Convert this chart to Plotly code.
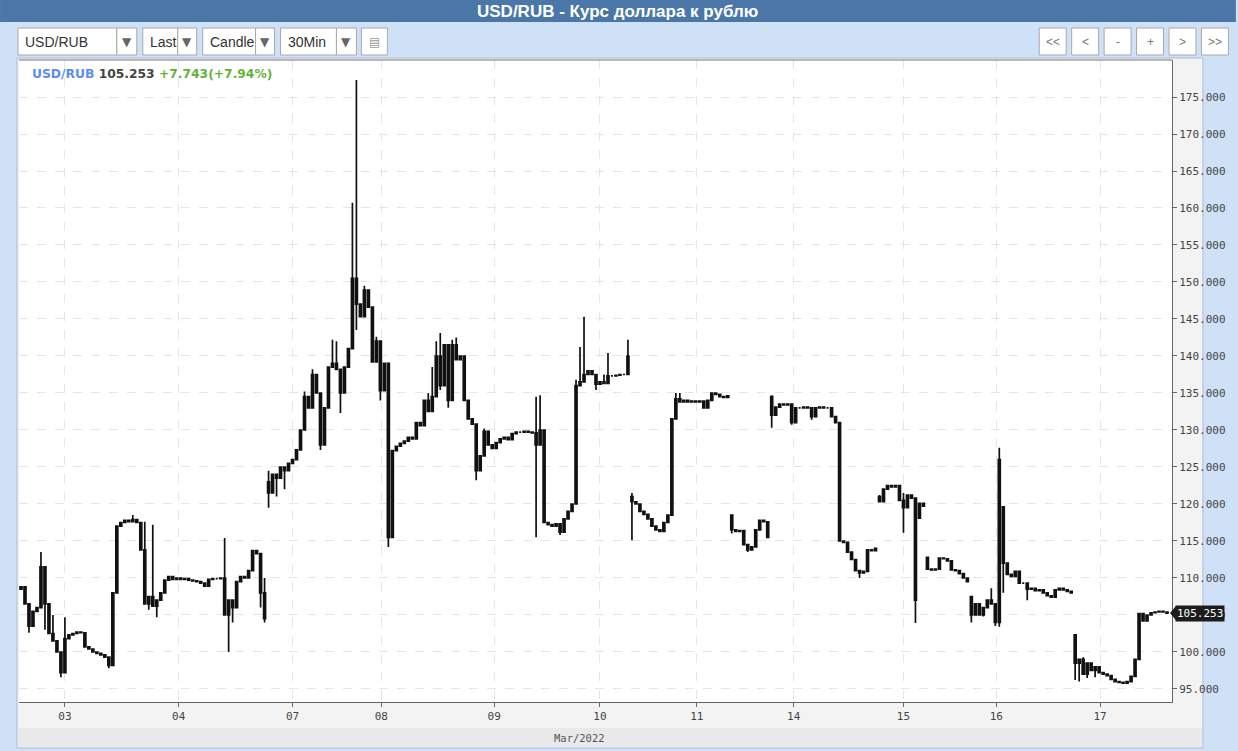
import plotly.graph_objects as go

# ---------------- data (30-min candles, USD/RUB, Mar 2022) ----------------
close = [
    108.8, 106.5, 103.5, 105.5, 106.0, 111.5, 106.5, 102.5, 101.5, 100.0,
    97.2, 101.8, 102.3, 102.5, 102.7, 102.6, 100.7, 100.4, 100.0, 99.8,
    99.6, 99.3, 98.2, 108.0, 117.0, 117.5, 117.8, 117.6, 117.9, 117.5,
    113.8, 106.5, 107.5, 106.2, 107.0, 108.0, 109.7, 110.2, 109.8, 110.0,
    109.8, 109.9, 109.7, 109.6, 109.5, 109.3, 108.9, 109.8, 109.9, 109.9,
    110.0, 105.0, 107.0, 106.0, 109.5, 110.2, 110.0, 111.0, 113.7, 113.3,
    108.0, 104.5,
    121.5, 124.0, 123.5, 125.0, 124.5, 125.5, 126.0, 127.3,
    130.0, 134.5, 133.0, 137.5, 135.0, 128.0, 133.0, 138.5, 139.0, 138.2,
    135.0, 138.5, 141.0, 150.5, 147.0, 145.3, 148.9, 146.6, 139.2, 142.0,
    135.3, 139.0, 115.5, 127.2, 127.8, 128.2, 128.5, 129.0, 128.8, 131.0,
    130.6, 134.0, 132.5, 134.5, 140.0, 136.0, 141.5, 134.0, 141.5, 139.5,
    140.0, 134.0, 131.5, 130.8, 124.5, 126.5, 129.8, 128.0, 127.5, 128.3,
    128.8, 129.0, 128.7, 129.5, 129.7, 129.7, 129.8, 129.7, 129.6, 128.0,
    130.0, 117.5, 117.2, 117.0, 117.3, 116.2, 118.0, 119.0, 120.0, 136.0,
    136.5, 137.5, 138.0, 137.5, 136.2, 136.5, 136.3, 137.3, 137.3, 137.4,
    137.5, 137.5, 140.0,
    120.3, 120.0, 119.0, 118.6, 118.0, 117.0, 116.5, 116.3, 117.5, 118.5,
    131.5, 134.2, 133.8, 134.0, 133.8, 133.9, 133.8, 133.9, 133.0, 134.0,
    135.0, 134.8, 134.5, 134.4, 134.6,
    116.5, 116.3, 116.4, 114.5, 113.8, 114.2, 116.5, 117.8, 117.6, 115.5,
    132.0, 133.1, 133.5, 133.4, 133.5, 131.0, 133.0, 133.0, 133.1, 133.0,
    131.8, 133.0, 133.1, 133.0, 133.0, 131.8, 131.0,
    115.0, 114.8, 113.5, 112.5, 111.0, 110.7, 110.9, 113.8, 113.7, 114.0,
    120.3, 122.0, 122.5, 122.3, 122.5, 120.5, 119.5, 121.2, 120.8, 107.0,
    120.1, 119.7,
    111.2, 111.1, 111.2, 112.7, 112.6, 112.3, 111.1, 111.0, 110.6, 110.0, 109.5,
    105.0, 106.5, 105.0, 106.0, 107.0, 106.5, 104.0,
    126.0, 112.0, 110.5, 110.2, 110.9, 109.3, 109.3, 108.5, 108.6, 108.3,
    108.4, 108.0, 107.6, 107.4, 108.4, 108.6, 108.4, 108.2, 108.0,
    98.5, 99.0, 97.0, 98.5, 97.5, 98.0, 97.2, 97.0, 96.8, 96.3,
    96.0, 95.9, 95.8, 96.0, 96.7, 99.0,
    105.2, 104.2, 105.0, 105.3, 105.4, 105.5, 105.4, 105.253,
]
# candles whose open differs from the previous close (session gaps)
gap_open = {0: 108.5, 62: 123.0, 153: 121.0, 178: 118.5, 188: 134.5, 215: 121.0,
            225: 118.1, 227: 112.8, 238: 107.5, 246: 119.6, 264: 102.3}
# wick extremes beyond the body
wick_high = {5: 113.5, 8: 105.0, 11: 104.7, 28: 118.5, 31: 117.6, 33: 117.2, 51: 115.4,
             61: 110.0, 62: 124.5, 71: 135.2, 73: 138.2, 78: 142.2, 79: 142.0, 83: 160.7,
             84: 177.3, 86: 149.5, 89: 142.6, 102: 135.0, 103: 138.5, 104: 142.0, 105: 143.1,
             108: 142.2, 109: 142.5, 116: 130.2, 129: 134.5, 130: 134.7, 139: 136.8,
             140: 141.2, 141: 145.3, 146: 137.5, 147: 140.4, 152: 142.2, 153: 121.5,
             164: 135.0, 165: 135.0, 188: 134.7, 215: 121.2, 221: 121.5, 243: 108.6,
             245: 127.6, 266: 99.3}
wick_low = {2: 102.6, 6: 103.0, 10: 96.6, 22: 97.8, 32: 105.7, 34: 104.7, 52: 100.0,
            53: 104.0, 60: 106.0, 61: 104.0, 62: 119.5, 64: 121.0, 66: 122.0, 75: 127.3,
            80: 132.3, 84: 143.5, 90: 134.0, 92: 114.2, 105: 135.4, 107: 133.0, 114: 123.2,
            129: 115.5, 135: 115.8, 144: 135.4, 153: 115.1, 178: 116.0, 182: 113.5,
            188: 130.3, 193: 130.7, 198: 131.4, 210: 110.0, 221: 116.1, 224: 103.9,
            238: 104.0, 241: 104.8, 244: 103.5, 245: 103.4, 246: 108.0, 252: 107.0,
            264: 96.2, 265: 96.0, 267: 96.5, 269: 96.6}
prev_close = 97.510
day_tick_pos = [11, 39.5, 68, 90.25, 118.5, 145, 169.25, 193.5, 221, 244.25, 270.25]
day_tick_text = ["03", "04", "07", "08", "09", "10", "11", "14", "15", "16", "17"]
price_ticks = [95, 100, 105, 110, 115, 120, 125, 130, 135, 140, 145, 150, 155, 160, 165, 170, 175]

# ---------------- build OHLC ----------------
idx = list(range(len(close)))
opens, highs, lows = [], [], []
for i, c in enumerate(close):
    o = gap_open.get(i, close[i - 1] if i > 0 else c)
    opens.append(o)
    highs.append(max(o, c, wick_high.get(i, c)))
    lows.append(min(o, c, wick_low.get(i, c)))

last = close[-1]
chg = last - prev_close
pct = chg / prev_close * 100

W, H = 1238, 751
L, R, T, B = 19, 1174, 60, 702


def px(x):
    return (x - L) / (R - L)


def py(y):
    return (B - y) / (B - T)


fig = go.Figure()
fig.add_trace(go.Candlestick(
    x=idx, open=opens, high=highs, low=lows, close=close,
    increasing=dict(line=dict(color="#111111", width=1.7), fillcolor="#111111"),
    decreasing=dict(line=dict(color="#111111", width=1.7), fillcolor="#111111"),
    whiskerwidth=0, hoverinfo="skip",
))

shapes = []
ann = []


def rect(x0, y0, x1, y1, fill, line=None, layer="above", lw=1):
    shapes.append(dict(type="rect", xref="paper", yref="paper",
                       x0=px(x0), x1=px(x1), y0=py(y1), y1=py(y0),
                       fillcolor=fill, layer=layer,
                       line=dict(color=line or fill, width=lw if line else 0)))


def text(x, y, s, size=14, color="#333", family="Liberation Sans", xanchor="left"):
    ann.append(dict(xref="paper", yref="paper", x=px(x), y=py(y), text=s,
                    showarrow=False, xanchor=xanchor, yanchor="middle",
                    font=dict(size=size, color=color, family=family)))


# backgrounds
rect(0, 0, W, 22, "#4a77a8")
rect(17, 58, 1205, 748, "#f3f3f3", line="#a9bdd5", layer="below")
rect(18, 728, 1204, 747, "#e9e9e9", layer="below")
rect(L, T, R, B, "#ffffff", layer="below")
shapes.append(dict(type="line", xref="paper", yref="paper", x0=px(L), x1=px(R),
                   y0=py(T), y1=py(T), line=dict(color="#777", width=1)))

text(619, 11, "<b>USD/RUB - Курс доллара к рублю</b>", size=17, color="white", xanchor="center")

# toolbar dropdowns
for (x0, xa, x1, label) in [(18, 117, 137, "USD/RUB"), (143, 178, 197, "Last"),
                            (203, 256, 275, "Candle"), (281, 337, 357, "30Min")]:
    rect(x0, 28, xa, 55, "white", line="#a8a8a8")
    rect(xa, 28, x1, 55, "white", line="#a8a8a8")
    text(x0 + 5, 42, label, size=14, color="#333")
    text((xa + x1) / 2, 42, "▼", size=12, color="#666", family="DejaVu Sans", xanchor="center")
rect(362, 28, 388, 55, "white", line="#a8a8a8")
text(375, 42, "▤", size=12, color="#999", family="DejaVu Sans", xanchor="center")

for k, lab in enumerate(["&lt;&lt;", "&lt;", "-", "+", "&gt;", "&gt;&gt;"]):
    x0 = 1041 + k * 32.5
    rect(x0, 28, x0 + 27, 55, "white", line="#a8a8a8")
    text(x0 + 13.5, 42, lab, size=12, color="#777", xanchor="center")

# legend line in chart
text(30, 74,
     "<b><span style='color:#5b8def'>USD/RUB</span> "
     f"<span style='color:#444'>{last:.3f}</span> "
     f"<span style='color:#62b33a'>{chg:+.3f}({pct:+.2f}%)</span></b>",
     size=12.3, family="DejaVu Sans")

text(580, 738, "Mar/2022", size=10.5, color="#555", family="DejaVu Sans Mono", xanchor="center")

# last price tag
ann.append(dict(xref="paper", yref="y", x=px(1177), y=last, text=f"{last:.3f}",
                showarrow=False, xanchor="left", yanchor="middle", bgcolor="#1c1c1c",
                borderpad=1, font=dict(size=11, color="white", family="DejaVu Sans Mono")))
shapes.append(dict(type="path", xref="paper", yref="y",
                   path=f"M {px(1172)},{last} L {px(1178)},{last + 0.95} L {px(1178)},{last - 0.95} Z",
                   fillcolor="#1c1c1c", line=dict(width=0)))

fig.update_layout(
    width=W, height=H,
    margin=dict(l=L, r=W - R, t=T, b=H - B),
    paper_bgcolor="#cfe1f7", plot_bgcolor="white",
    showlegend=False, shapes=shapes, annotations=ann,
    xaxis=dict(range=[-0.5, 288.25], tickvals=day_tick_pos, ticktext=day_tick_text,
               rangeslider=dict(visible=False), showgrid=True, gridcolor="#e6e6e6",
               griddash="dash", zeroline=False, showline=True, linecolor="#666",
               ticks="outside", ticklen=4, tickcolor="#666",
               tickfont=dict(family="DejaVu Sans Mono", size=11, color="#444")),
    yaxis=dict(range=[93.24, 180.0], side="right", tickvals=price_ticks,
               ticktext=[f"{v:.3f}" for v in price_ticks], showgrid=True,
               gridcolor="#e6e6e6", griddash="dash", zeroline=False, showline=True,
               linecolor="#666", ticks="outside", ticklen=4, tickcolor="#666",
               tickfont=dict(family="DejaVu Sans Mono", size=11, color="#444")),
)

fig.write_html("out.html", post_script="document.body.style.margin='0';",
               config={"displayModeBar": False})
